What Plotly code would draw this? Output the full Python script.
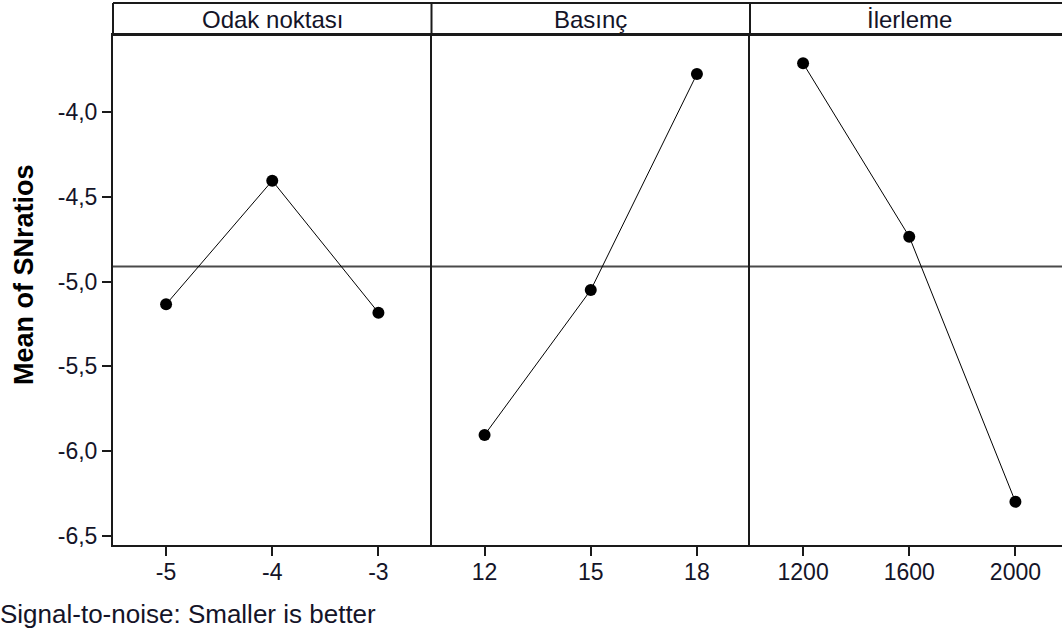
import plotly.graph_objects as go
from plotly.subplots import make_subplots

# ---- data ----
factors = ["Odak noktası", "Basınç", "İlerleme"]
levels_odak = ["-5", "-4", "-3"]
sn_odak = [-5.134, -4.405, -5.183]
levels_basinc = ["12", "15", "18"]
sn_basinc = [-5.904, -5.050, -3.776]
levels_ilerleme = ["1200", "1600", "2000"]
sn_ilerleme = [-3.713, -4.735, -6.298]
y_ticks = [-6.5, -6.0, -5.5, -5.0, -4.5, -4.0]
y_tick_labels = ["-6,5", "-6,0", "-5,5", "-5,0", "-4,5", "-4,0"]
y_title = "Mean of SNratios"
footer = "Signal-to-noise: Smaller is better"

levels = [levels_odak, levels_basinc, levels_ilerleme]
values = [sn_odak, sn_basinc, sn_ilerleme]
all_vals = sn_odak + sn_basinc + sn_ilerleme
grand_mean = sum(all_vals) / len(all_vals)

W, H = 1062, 637
ML, MR, MT, MB = 113, 0, 35, 92
PW = W - ML - MR
PH = H - MT - MB
panel_px = 318.5
strip_px = 32

FONT = "Liberation Sans"
TXT = "#141428"
LINE = "#1a1a1a"

fig = make_subplots(rows=1, cols=3, shared_yaxes=True, horizontal_spacing=0)

for i in range(3):
    fig.add_trace(go.Scatter(
        x=levels[i], y=values[i], mode="lines+markers",
        line=dict(color="black", width=1),
        marker=dict(color="black", size=12),
        showlegend=False, hoverinfo="x+y"), row=1, col=i + 1)
    fig.add_hline(y=grand_mean, line=dict(color="#4a4a4a", width=1.8), row=1, col=i + 1, layer="below")

shapes = []
for i in range(3):
    x0 = i * panel_px / PW
    x1 = min((i + 1) * panel_px / PW, 1.0)
    xr_hi = -0.5 + 3 * (x1 * PW - i * panel_px) / panel_px
    ax = "xaxis" if i == 0 else f"xaxis{i+1}"
    yax = "yaxis" if i == 0 else f"yaxis{i+1}"
    fig.layout[ax].update(
        domain=[x0, x1], type="category", range=[-0.5, xr_hi],
        showline=True, linecolor=LINE, linewidth=2, mirror=True,
        ticks="outside", ticklen=9, tickwidth=2, tickcolor=LINE,
        ticklabelstandoff=-4,
        tickfont=dict(family=FONT, size=23, color=TXT),
        showgrid=False, zeroline=False, fixedrange=True)
    fig.layout[yax].update(
        range=[-6.553, -3.546], showgrid=False, zeroline=False,
        showline=True, linecolor=LINE, linewidth=2, mirror=False)
    # strip title
    cx = (i * panel_px + panel_px / 2) / PW
    fig.add_annotation(xref="paper", yref="paper", x=cx, y=1 + (strip_px / 2) / PH,
                       text=factors[i], showarrow=False, xanchor="center", yanchor="middle",
                       font=dict(family=FONT, size=24, color=TXT))
    # divider in strip
    shapes.append(dict(type="line", xref="paper", yref="paper", x0=x0, x1=x0,
                       y0=1, y1=1 + strip_px / PH, line=dict(color=LINE, width=2)))

shapes.append(dict(type="line", xref="paper", yref="paper", x0=0, x1=1,
                   y0=1 + strip_px / PH, y1=1 + strip_px / PH, line=dict(color=LINE, width=2)))
shapes.append(dict(type="line", xref="paper", yref="paper", x0=0, x1=1,
                   y0=1, y1=1, line=dict(color=LINE, width=2)))

fig.layout.yaxis.update(
    tickvals=y_ticks, ticktext=y_tick_labels, ticks="outside", ticklen=9, tickwidth=2,
    tickcolor=LINE, tickfont=dict(family=FONT, size=23, color=TXT))
fig.layout.yaxis2.update(showticklabels=False, ticks="")
fig.layout.yaxis3.update(showticklabels=False, ticks="")

fig.add_annotation(xref="paper", yref="paper", x=(24 - ML) / PW, y=(MT + PH - 275) / PH,
                   text=f"<b>{y_title}</b>", textangle=-90, showarrow=False,
                   xanchor="center", yanchor="middle",
                   font=dict(family=FONT, size=27, color="black"))
fig.add_annotation(xref="paper", yref="paper", x=(-2 - ML) / PW, y=-(614 - MT - PH) / PH,
                   text=footer, showarrow=False, xanchor="left", yanchor="middle",
                   font=dict(family=FONT, size=26, color=TXT))

fig.update_layout(
    width=W, height=H, margin=dict(l=ML, r=MR, t=MT, b=MB, pad=0),
    paper_bgcolor="white", plot_bgcolor="white",
    separators=",.", shapes=list(fig.layout.shapes) + shapes,
    showlegend=False)

fig.write_html("out.html", config={"displayModeBar": False})
